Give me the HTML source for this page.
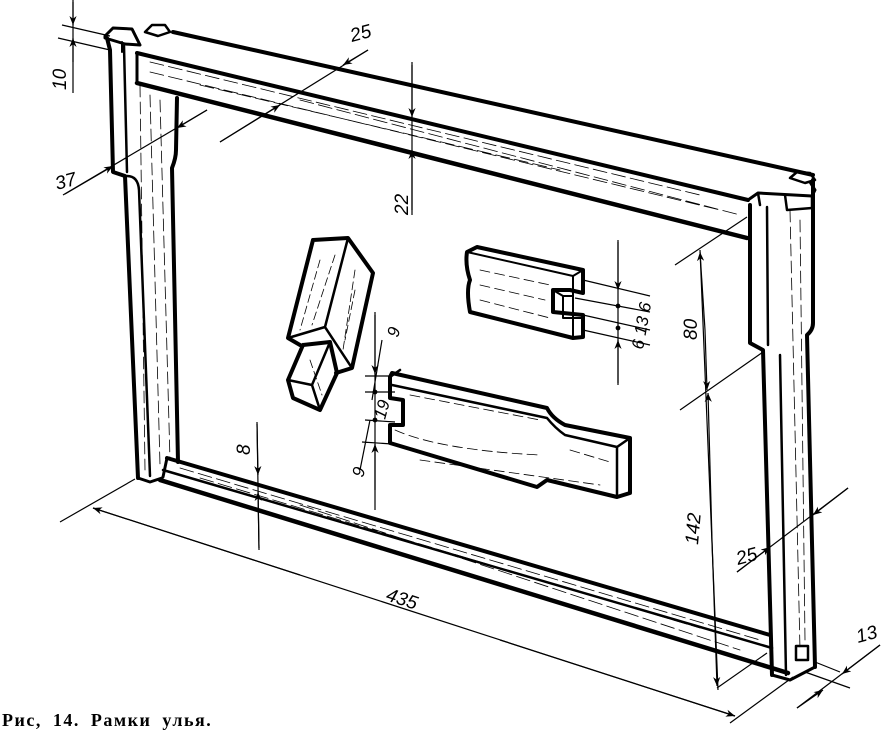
<!DOCTYPE html>
<html><head><meta charset="utf-8"><style>
html,body{margin:0;padding:0;background:#fff;}
svg{display:block;}
text{font-family:"Liberation Sans",sans-serif;font-style:italic;fill:#000;}
.cap{font-family:"Liberation Serif","DejaVu Serif",serif;font-weight:bold;font-style:normal;font-size:18px;letter-spacing:1.5px;word-spacing:5px;}
</style></head><body>
<svg width="882" height="731" viewBox="0 0 882 731" xmlns="http://www.w3.org/2000/svg">
<defs>
<marker id="a" viewBox="0 0 10 10" refX="10" refY="5" markerWidth="9" markerHeight="9" orient="auto-start-reverse" markerUnits="userSpaceOnUse"><path d="M0,1 L10,5 L0,9 L3,5 Z" fill="#000"/></marker>
</defs>
<g fill="none" stroke="#000" stroke-linecap="round" stroke-linejoin="round">
<path d="M173,32 L813,175" stroke-width="4"/>
<path d="M137,53 L748,200" stroke-width="4"/>
<path d="M137,83 L747,238" stroke-width="4.5"/>
<path d="M137,53 L137,83" stroke-width="3"/>
<path d="M150,62 L700,195 M150,72 L720,210 M200,85 L560,170 M300,100 L740,215" stroke-width="0.8" stroke-dasharray="14,5"/>
<path d="M105,36 L113,28 L132,29 L140,45 L125,44 L105,38 Z" stroke-width="3"/>
<path d="M122,42 L122,52 M133,30 L140,45" stroke-width="2"/>
<path d="M145,32 L152,25 L165,25 L170,32 L158,36 Z" stroke-width="2.5"/>
<path d="M107,38 L110,50 L113,172 L125,176 L138,478" stroke-width="4"/>
<path d="M124,46 L127,172 M127,176 Q138,176 139,190 L150,476" stroke-width="2.5"/>
<path d="M177,98 L176,150 Q176,158 172,168 L178,462" stroke-width="4"/>
<path d="M140,85 L145,470 M150,95 L160,465 M160,100 L170,460" stroke-width="0.8" stroke-dasharray="12,5"/>
<path d="M138,478 L150,482 L162,478" stroke-width="3"/>
<path d="M167,458 L770,635" stroke-width="4"/>
<path d="M163,470 L772,648" stroke-width="2.5"/>
<path d="M160,480 L788,673" stroke-width="4.5"/>
<path d="M167,458 L163,477" stroke-width="3"/>
<path d="M180,468 L760,640 M200,478 L700,628 M300,505 L740,650" stroke-width="0.8" stroke-dasharray="14,5"/>
<path d="M750,205 L750,343 L763,350 L772,675" stroke-width="4"/>
<path d="M767,207 L768,345 M780,355 L786,675" stroke-width="2.5"/>
<path d="M813,180 L813,323 Q813,330 807,335 L815,667" stroke-width="4"/>
<path d="M772,675 L790,680 L815,667" stroke-width="3"/>
<path d="M790,210 L800,650 M800,220 L805,640" stroke-width="0.8" stroke-dasharray="12,5"/>
<path d="M748,200 L758,193 L812,196 L815,190 L810,182" stroke-width="3"/>
<path d="M758,193 L760,205 M785,195 L787,210 L812,208 L812,196" stroke-width="2.5"/>
<path d="M790,178 L797,172 L810,173 L815,180 L805,183 Z" stroke-width="2.5"/>
<rect x="796" y="646" width="12" height="14" stroke-width="2.5"/>
<path d="M313,240 L348,238 L373,273 L352,368 L336,373 M313,240 L288,338 L300,345" stroke-width="4"/>
<path d="M348,238 L325,327 L288,338 M325,327 L352,368" stroke-width="2.5"/>
<path d="M303,345 L330,342 L337,373 L320,410 L293,398 L288,380 L303,345" stroke-width="4"/>
<path d="M288,380 L312,385 L320,410 M312,385 L330,342" stroke-width="2.5"/>
<path d="M320,260 L300,330 M335,255 L312,325 M355,270 L343,350 M355,290 L345,340 M310,360 L322,395" stroke-width="0.8" stroke-dasharray="8,4"/>
<path d="M467,252 L477,247 L583,270 L583,293 L570,290 L553,290 L553,312 L583,315 L583,337 L573,338 L470,312 Q466,290 470,280 Q465,265 467,252 Z" stroke-width="4"/>
<path d="M467,252 L573,276 L573,338 M573,276 L583,270 M553,290 L563,296 L573,296 M563,296 L563,318 L583,318" stroke-width="2"/>
<path d="M480,270 L550,285 M480,285 L545,300 M480,300 L550,318" stroke-width="0.8" stroke-dasharray="10,5"/>
<path d="M392,373 L547,408 Q552,418 565,425 L630,438 L630,493 L617,497 L547,480 L537,487 L390,443 L390,425 L403,425 L403,400 L390,398 L390,377 Z" stroke-width="4"/>
<path d="M390,377 L400,370 M392,385 L547,418 Q555,428 565,435 L617,447 L630,438 M617,447 L617,497" stroke-width="2.5"/>
<path d="M395,430 Q440,450 540,455 M410,395 L540,420 M420,460 L600,485 M570,450 L610,462" stroke-width="0.8" stroke-dasharray="10,5"/>
</g>
<g fill="none" stroke="#000" stroke-width="1.2">
<path d="M73,0 L73,93 M62,25 L110,36 M58,38 L110,50"/>
<path d="M73,2 L73,25" marker-end="url(#a)"/><path d="M73,62 L73,38" marker-end="url(#a)"/>
<path d="M220,142 L368,50"/>
<path d="M368,50 L343,65" marker-end="url(#a)"/><path d="M220,142 L280,105" marker-end="url(#a)"/>
<path d="M63,195 L207,110"/>
<path d="M65,194 L113,166" marker-end="url(#a)"/><path d="M207,110 L177,128" marker-end="url(#a)"/>
<path d="M412,62 L412,215"/>
<path d="M412,65 L412,117" marker-end="url(#a)"/><path d="M412,210 L412,150" marker-end="url(#a)"/>
<path d="M675,265 L747,217 M680,410 L763,352 M700,250 L718,690 M717,688 L767,653"/>
<path d="M705,330 L700,252" marker-end="url(#a)"/>
<path d="M705,330 L707,390" marker-end="url(#a)"/>
<path d="M712,540 L708,393" marker-end="url(#a)"/>
<path d="M712,540 L717,686" marker-end="url(#a)"/>
<path d="M60,522 L135,479 M730,723 L793,677 M93,508 L735,716"/>
<path d="M300,575 L93,508" marker-end="url(#a)"/><path d="M500,640 L735,716" marker-end="url(#a)"/>
<path d="M737,572 L848,488"/>
<path d="M737,572 L770,547" marker-end="url(#a)"/><path d="M848,488 L813,515" marker-end="url(#a)"/>
<path d="M797,708 L880,645 M815,662 L840,672 M805,672 L850,688"/>
<path d="M797,708 L823,690" marker-end="url(#a)"/><path d="M880,645 L842,674" marker-end="url(#a)"/>
<path d="M257,422 L259,550"/>
<path d="M257,424 L258,475" marker-end="url(#a)"/><path d="M259,548 L258,492" marker-end="url(#a)"/>
<path d="M375,312 L375,510 M365,376 L392,376 M365,392 L395,392 M365,420 L395,422 M362,442 L392,444 M382,340 L372,400 M370,420 L360,470"/>
<path d="M375,315 L375,374" marker-end="url(#a)"/><path d="M375,490 L375,444" marker-end="url(#a)"/>
<circle cx="375" cy="392" r="1.8" fill="#000"/><circle cx="375" cy="420" r="1.8" fill="#000"/>
<path d="M618,240 L618,385 M583,280 L650,296 M575,298 L650,312 M583,315 L650,330 M583,330 L650,345"/>
<path d="M618,242 L618,290" marker-end="url(#a)"/><path d="M618,383 L618,340" marker-end="url(#a)"/>
<circle cx="618" cy="306" r="1.8" fill="#000"/><circle cx="618" cy="328" r="1.8" fill="#000"/>
</g>
<g font-size="19">
<text transform="translate(66,90) rotate(-90)">10</text>
<text transform="translate(352,42) rotate(-15)">25</text>
<text transform="translate(57,190) rotate(-15)">37</text>
<text transform="translate(408,215) rotate(-90)">22</text>
<text transform="translate(697,340) rotate(-90)">80</text>
<text transform="translate(698,545) rotate(-85)">142</text>
<text transform="translate(385,600) rotate(18)">435</text>
<text transform="translate(738,565) rotate(-15)">25</text>
<text transform="translate(858,643) rotate(-15)">13</text>
<text transform="translate(250,455) rotate(-90)">8</text>
<text transform="translate(398,338) rotate(-75)" font-size="17">9</text>
<text transform="translate(385,420) rotate(-75)" font-size="17">19</text>
<text transform="translate(363,478) rotate(-75)" font-size="17">9</text>
<text transform="translate(643,350) rotate(-80)" font-size="17">6 13 6</text>
</g>
<text x="2" y="726" class="cap">Рис, 14. Рамки улья.</text>
</svg>
</body></html>
